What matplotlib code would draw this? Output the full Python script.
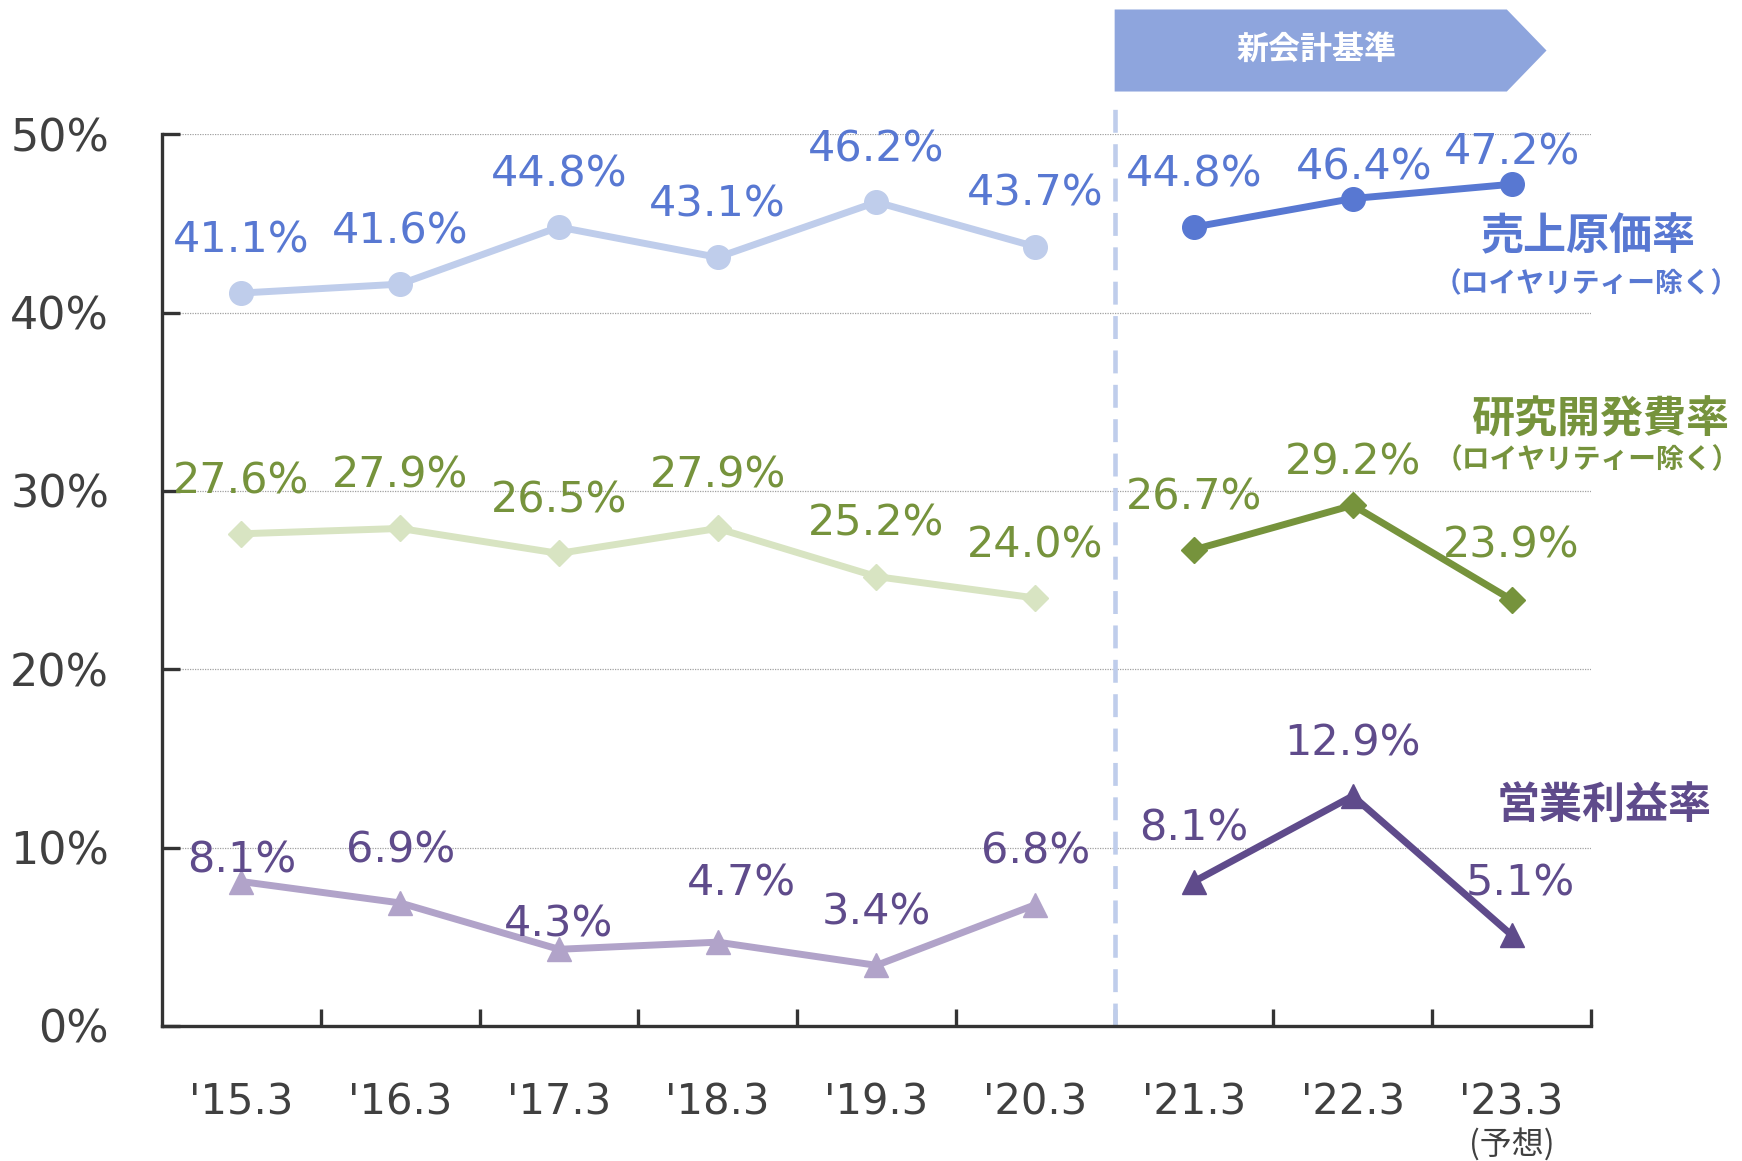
import matplotlib.pyplot as plt
from matplotlib.patches import Polygon

plt.rcParams['font.family'] = ['DejaVu Sans', 'Noto Sans CJK JP']

years = ["'15.3", "'16.3", "'17.3", "'18.3", "'19.3", "'20.3", "'21.3", "'22.3", "'23.3"]
cogs_rate = [41.1, 41.6, 44.8, 43.1, 46.2, 43.7, 44.8, 46.4, 47.2]
rd_rate = [27.6, 27.9, 26.5, 27.9, 25.2, 24.0, 26.7, 29.2, 23.9]
op_rate = [8.1, 6.9, 4.3, 4.7, 3.4, 6.8, 8.1, 12.9, 5.1]
y_ticks = [0, 10, 20, 30, 40, 50]

# index where the new accounting standard begins
split = 6

# label offsets (points) for values
cogs_off = [(0, 38)] * 7 + [(8, 22), (0, 23)]
rd_off = [(0, 38)] * 7 + [(0, 31), (0, 39)]
op_off = [(0, 15), (0, 38), (0, 18), (17, 42), (0, 38), (0, 38), (0, 38), (0, 38), (6, 37)]

BLUE_L, BLUE_D = '#bfcdeb', '#5878d2'
GREEN_L, GREEN_D = '#d8e4c2', '#76933c'
PURP_L, PURP_D = '#b1a3c9', '#5f4b8b'


def plot_series(ax, values, offsets, marker, ms, light, dark, txt_color):
	x = list(range(len(values)))
	ax.plot(x[:split], values[:split], color=light, lw=5, marker=marker, ms=ms, zorder=3)
	ax.plot(x[split:], values[split:], color=dark, lw=5, marker=marker, ms=ms, zorder=3)
	for i, v in enumerate(values):
		ax.annotate('%.1f%%' % v, (i, v), xytext=offsets[i], textcoords='offset points',
			ha='center', va='center', fontsize=31, color=txt_color, zorder=4)


def main():
	fig = plt.figure(figsize=(17.42, 11.61), dpi=100)
	ax = fig.add_axes([0.093, 0.1163, 0.8203, 0.768])

	ax.set_xlim(-0.5, len(years) - 0.5)
	ax.set_ylim(0, 50)

	for s in ['top', 'right']:
		ax.spines[s].set_visible(False)
	for s in ['left', 'bottom']:
		ax.spines[s].set_linewidth(2.4)
		ax.spines[s].set_color('#333333')

	ax.set_yticks(y_ticks)
	ax.set_yticklabels(['%d%%' % t for t in y_ticks])
	ax.tick_params(axis='y', direction='in', length=13, width=2.4, color='#333333',
		labelsize=32, labelcolor='#404040', pad=38)
	for t in y_ticks[1:]:
		ax.axhline(t, color='#a0a0a0', lw=0.9, ls=(0, (1, 1)), zorder=1)

	ax.set_xticks(range(len(years)))
	ax.set_xticklabels(years)
	ax.tick_params(axis='x', which='major', length=0, labelsize=30, labelcolor='#404040', pad=40)
	ax.set_xticks([i + 0.5 for i in range(len(years))], minor=True)
	ax.tick_params(axis='x', which='minor', direction='in', length=12, width=2.4, color='#333333')

	ax.text(len(years) - 1, -0.133, '(予想)', transform=ax.get_xaxis_transform(),
		ha='center', va='center', fontsize=23, color='#404040', family=['Noto Sans CJK JP'])

	# new accounting standard
	ax.plot([split - 0.5, split - 0.5], [0, 52], color=BLUE_L, lw=3.3, ls=(0, (5, 2.5)),
		clip_on=False, zorder=2)
	banner = Polygon([(split - 0.5, 52.4), (7.97, 52.4), (8.22, 54.7), (7.97, 57.0), (split - 0.5, 57.0)],
		closed=True, facecolor='#8ea5dd', edgecolor='none', clip_on=False)
	ax.add_patch(banner)
	ax.text(6.77, 54.7, '新会計基準', ha='center', va='center', fontsize=23, color='white',
		weight='bold', family=['Noto Sans CJK JP'], clip_on=False)

	plot_series(ax, cogs_rate, cogs_off, 'o', 17, BLUE_L, BLUE_D, BLUE_D)
	plot_series(ax, rd_rate, rd_off, 'D', 13, GREEN_L, GREEN_D, GREEN_D)
	plot_series(ax, op_rate, op_off, '^', 17, PURP_L, PURP_D, PURP_D)

	jp = dict(va='center', weight='bold', family=['Noto Sans CJK JP'], clip_on=False)
	ax.text(8.48, 44.3, '売上原価率', fontsize=31, color=BLUE_D, ha='center', **jp)
	ax.text(9.43, 41.6, '（ロイヤリティー除く）', fontsize=20, color=BLUE_D, ha='right', **jp)
	ax.text(8.56, 34.0, '研究開発費率', fontsize=31, color=GREEN_D, ha='center', **jp)
	ax.text(9.435, 31.7, '（ロイヤリティー除く）', fontsize=20, color=GREEN_D, ha='right', **jp)
	ax.text(8.58, 12.4, '営業利益率', fontsize=31, color=PURP_D, ha='center', **jp)

	fig.savefig('out.png', dpi=100)


main()
